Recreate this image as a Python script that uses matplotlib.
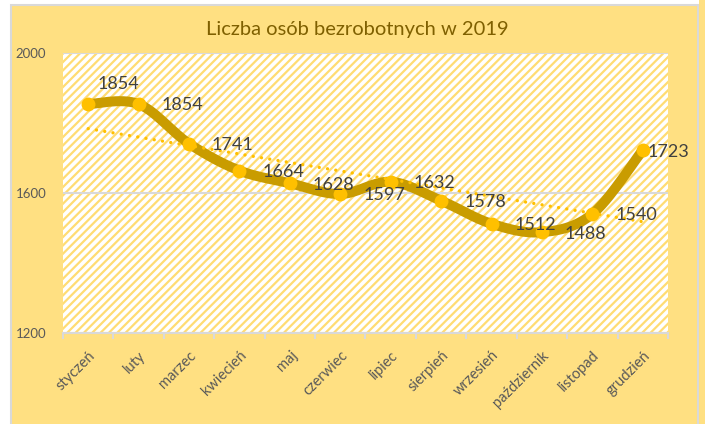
import numpy as np
import matplotlib.pyplot as plt
from matplotlib.patches import Rectangle

months = ['styczeń', 'luty', 'marzec', 'kwiecień', 'maj', 'czerwiec',
          'lipiec', 'sierpień', 'wrzesień', 'październik', 'listopad', 'grudzień']
values = [1854, 1854, 1741, 1664, 1628, 1597, 1632, 1578, 1512, 1488, 1540, 1723]
yticks = [1200, 1600, 2000]
title = 'Liczba osób bezrobotnych w 2019'

plt.rcParams['font.family'] = ['Lato', 'DejaVu Sans']
plt.rcParams['hatch.linewidth'] = 1.6

line_col = '#C99C00'
mark_col = '#FFC000'
bg_col = '#FFE082'
txt_col = '#404040'


def smooth(x, y, n=30):
    # Excel style smoothing: cubic bezier with catmull-rom control points
    x = np.asarray(x, float)
    y = np.asarray(y, float)
    px = np.concatenate([[x[0]], x, [x[-1]]])
    py = np.concatenate([[y[0]], y, [y[-1]]])
    xs, ys = [], []
    t = np.linspace(0, 1, n)
    for i in range(1, len(x)):
        p0 = np.array([px[i], py[i]])
        p3 = np.array([px[i + 1], py[i + 1]])
        p1 = p0 + (np.array([px[i + 1], py[i + 1]]) - np.array([px[i - 1], py[i - 1]])) / 6
        p2 = p3 - (np.array([px[i + 2], py[i + 2]]) - np.array([px[i], py[i]])) / 6
        b = ((1 - t) ** 3)[:, None] * p0 + (3 * (1 - t) ** 2 * t)[:, None] * p1 \
            + (3 * (1 - t) * t ** 2)[:, None] * p2 + (t ** 3)[:, None] * p3
        xs.extend(b[:, 0])
        ys.extend(b[:, 1])
    return np.array(xs), np.array(ys)


fig = plt.figure(figsize=(7.05, 4.24), dpi=100)
fig.patch.set_facecolor('white')

# chart area background
bg = fig.add_axes([0, 0, 1, 1], zorder=0)
bg.set_xlim(0, 705)
bg.set_ylim(424, 0)
bg.axis('off')
bg.add_patch(Rectangle((10.5, 5), 687, 425, facecolor=bg_col, edgecolor='#D9D9D9', linewidth=1.5))
bg.add_patch(Rectangle((699, 0), 6, 424, facecolor=bg_col, edgecolor='none'))

ax = fig.add_axes([63 / 705, 1 - 333 / 424, 605 / 705, 280 / 424], zorder=1)
ax.set_facecolor('white')
ax.add_patch(Rectangle((0, 0), 1, 1, transform=ax.transAxes, facecolor='white',
                       edgecolor='#FFDC73', linewidth=0, hatch='////', zorder=0))

x = np.arange(len(values))
sx, sy = smooth(x, values)
ax.plot(sx, sy, color=line_col, linewidth=7.2, solid_capstyle='round', zorder=3)

k, b0 = np.polyfit(x, values, 1)
ax.plot([x[0], x[-1]], [b0 + k * x[0], b0 + k * x[-1]], color=mark_col, linewidth=2.4,
        linestyle=(0, (0.01, 2.5)), dash_capstyle='round', zorder=4)

ax.plot(x, values, linestyle='none', marker='o', markersize=10, color=mark_col,
        markeredgewidth=0, zorder=5)

for i, v in enumerate(values):
    if i == 0:
        off = (6.5, 14.5)
    elif i == len(values) - 1:
        off = (3.5, -1.5)
    else:
        off = (16.5, -1)
    ax.annotate(str(v), (x[i], v), xytext=off, textcoords='offset points',
                ha='left', va='center', fontsize=13, color=txt_col, zorder=6)

ax.set_xlim(-0.5, len(values) - 0.5)
ax.set_ylim(1200, 2000)
ax.set_yticks(yticks)
ax.set_yticklabels([str(t) for t in yticks], fontsize=9.5, color='#595959')
ax.tick_params(axis='y', length=0, pad=12)

ax.yaxis.grid(True, color='#D9D9D9', linewidth=1.5)
ax.set_axisbelow(True)
for s in ['left', 'right', 'top']:
    ax.spines[s].set_visible(False)
ax.spines['bottom'].set_color('#D9D9D9')
ax.spines['bottom'].set_linewidth(1.5)

ax.set_xticks(np.arange(len(values) + 1) - 0.5)
ax.set_xticklabels([])
ax.tick_params(axis='x', length=4, color='#D9D9D9', width=1.5)
ax.set_xticks(x, minor=True)
ax.set_xticklabels(months, minor=True, rotation=45, ha='right', va='top',
                   rotation_mode='anchor', fontsize=10.5, color='#595959')
ax.tick_params(axis='x', which='minor', length=0, pad=11)

fig.text(357 / 705, 1 - 29 / 424, title, ha='center', va='center', fontsize=14.5,
         color='#7F6000')

fig.savefig('out.png', dpi=100)
